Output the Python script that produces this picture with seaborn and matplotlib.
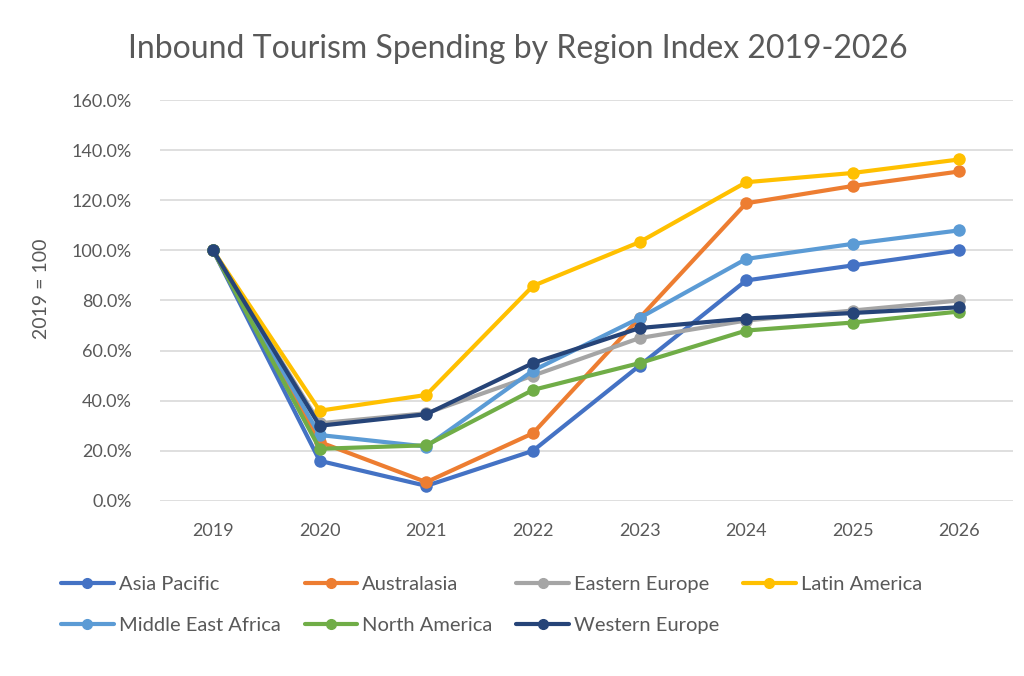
import pandas as pd
import matplotlib.pyplot as plt
import seaborn as sns
from matplotlib.ticker import PercentFormatter

# Data (index, 2019 = 100%)
years = ['2019', '2020', '2021', '2022', '2023', '2024', '2025', '2026']
asia_pacific = [100, 16, 6, 20, 54, 88, 94, 100]
australasia = [100, 23.5, 7.5, 27, 73, 118.8, 125.7, 131.5]
eastern_europe = [100, 31, 35, 50, 65, 72, 76, 80]
latin_america = [100, 36, 42.3, 85.8, 103.3, 127.2, 130.9, 136.3]
middle_east_africa = [100, 26.3, 21.7, 52, 73, 96.6, 102.6, 108]
north_america = [100, 20.8, 22.2, 44.3, 55, 68, 71.2, 75.6]
western_europe = [100, 30, 34.6, 55, 69, 72.8, 75, 77.3]

regions = ['Asia Pacific', 'Australasia', 'Eastern Europe', 'Latin America',
           'Middle East Africa', 'North America', 'Western Europe']
series = [asia_pacific, australasia, eastern_europe, latin_america,
          middle_east_africa, north_america, western_europe]
colors = ['#4472C4', '#ED7D31', '#A5A5A5', '#FFC000', '#5B9BD5', '#70AD47', '#264478']

# long-form table
rows = []
for region, vals in zip(regions, series):
    for i, v in enumerate(vals):
        rows.append({'Region': region, 'x': i, 'Value': v})
df = pd.DataFrame(rows)

sns.set_style('white')
plt.rcParams['font.family'] = ['Lato', 'DejaVu Sans']

fig = plt.figure(figsize=(10.24, 6.76), dpi=100)
ax = fig.add_axes([0.156, 0.259, 0.833, 0.593])

sns.lineplot(data=df, x='x', y='Value', hue='Region', hue_order=regions,
             palette=colors, marker='o', markersize=9, markeredgewidth=0,
             linewidth=3, ax=ax, legend=False)

ax.set_xlim(-0.5, len(years) - 0.5)
ax.set_ylim(0, 160)
ax.set_xticks(range(len(years)))
ax.set_xticklabels(years)
ax.set_yticks(range(0, 161, 20))
ax.yaxis.set_major_formatter(PercentFormatter(decimals=1))
ax.grid(axis='y', color='#D9D9D9', linewidth=1.2)
ax.set_axisbelow(True)
for s in ax.spines.values():
    s.set_visible(False)
ax.tick_params(axis='both', length=0, labelsize=13, labelcolor='#595959')
ax.tick_params(axis='x', pad=16)
ax.tick_params(axis='y', pad=20)
ax.set_xlabel('')
ax.set_ylabel('2019 = 100', fontsize=14, color='#595959')
ax.yaxis.set_label_coords(-0.129, 0.53)

fig.suptitle('Inbound Tourism Spending by Region Index 2019-2026',
             fontsize=23, color='#595959', x=0.506, y=0.95)

# legend filled row by row like the original (matplotlib fills columns)
order = [0, 4, 1, 5, 2, 6, 3]
handles = [plt.Line2D([], [], color=colors[i], linewidth=3, marker='o', markersize=7)
           for i in order]
labels = [regions[i] for i in order]
fig.legend(handles, labels, loc='upper left', bbox_to_anchor=(0.052, 0.16),
           ncol=4, frameon=False, fontsize=14.5, labelcolor='#595959',
           handlelength=2.6, handletextpad=0.25, columnspacing=1.2,
           labelspacing=1.2, borderaxespad=0)

plt.savefig('out.png', dpi=100)
